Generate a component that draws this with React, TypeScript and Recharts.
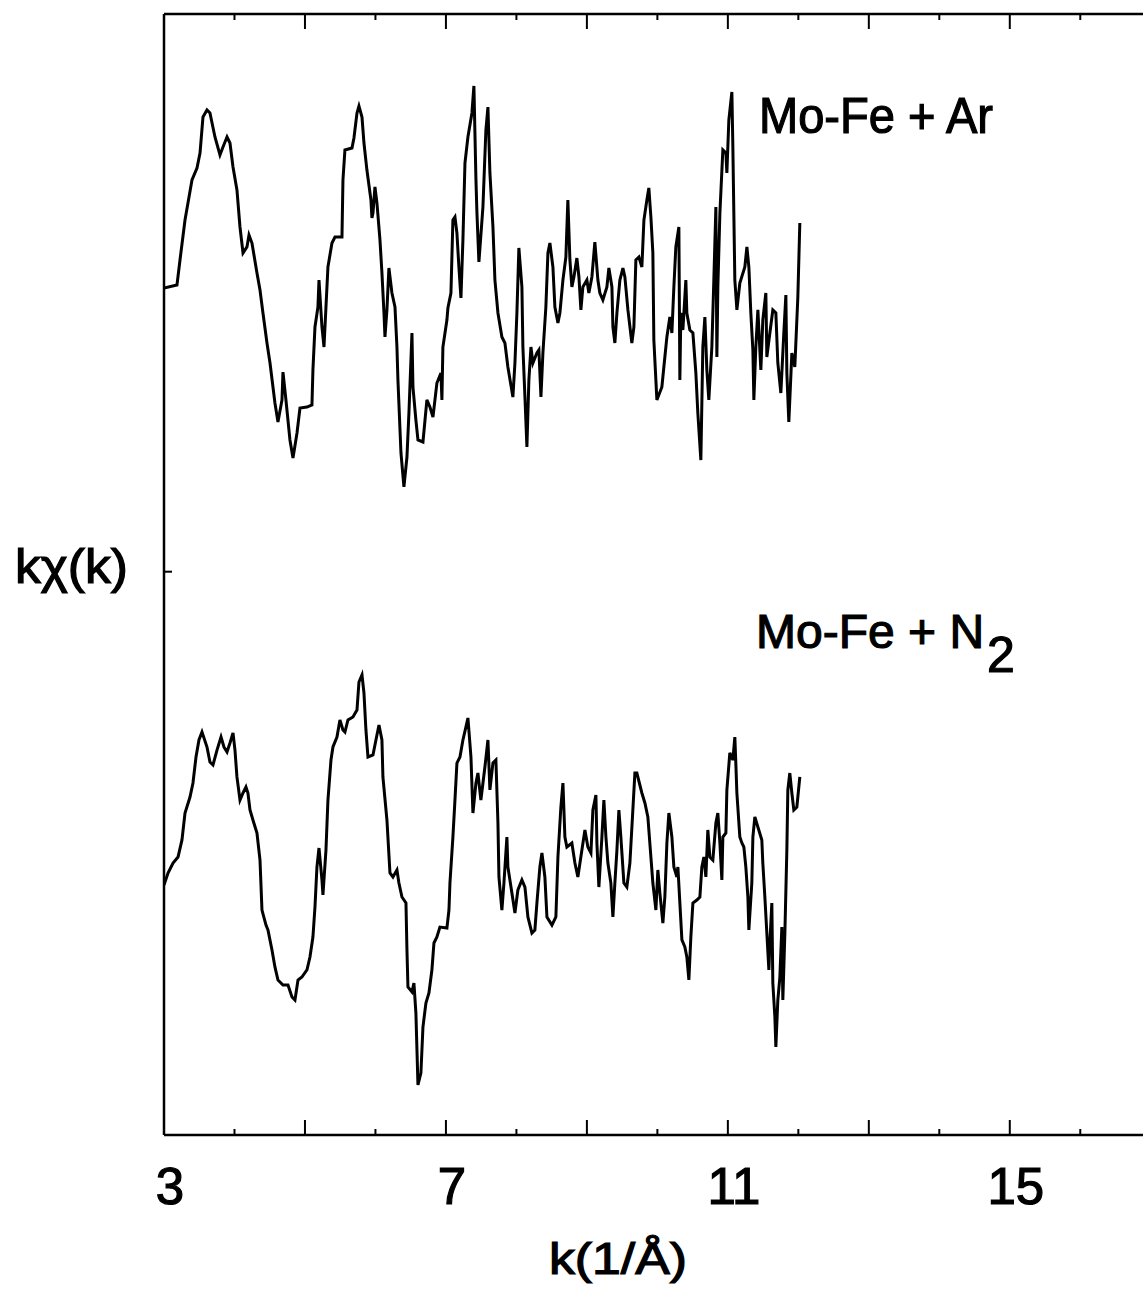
import { LineChart, Line, XAxis, YAxis } from "recharts";

const arK = [
  3.0, 3.184, 3.227, 3.298, 3.397, 3.468, 3.511, 3.553, 3.61, 3.652,
  3.723, 3.794, 3.837, 3.894, 3.936, 3.979, 4.035, 4.078, 4.121, 4.177,
  4.206, 4.248, 4.319, 4.362, 4.404, 4.461, 4.504, 4.574, 4.617, 4.674,
  4.688, 4.73, 4.787, 4.83, 4.887, 4.929, 5.028, 5.099, 5.113, 5.142,
  5.184, 5.199, 5.241, 5.27, 5.298, 5.326, 5.383, 5.426, 5.525, 5.539,
  5.567, 5.667, 5.695, 5.738, 5.766, 5.809, 5.837, 5.879, 5.936, 5.95,
  5.965, 5.993, 6.021, 6.064, 6.092, 6.121, 6.135, 6.163, 6.191, 6.234,
  6.277, 6.305, 6.319, 6.362, 6.404, 6.447, 6.475, 6.518, 6.532, 6.574,
  6.603, 6.674, 6.73, 6.773, 6.816, 6.872, 6.929, 6.943, 6.957, 7.014,
  7.028, 7.071, 7.099, 7.128, 7.156, 7.184, 7.213, 7.241, 7.27, 7.312,
  7.369, 7.397, 7.426, 7.44, 7.468, 7.525, 7.567, 7.596, 7.624, 7.667,
  7.695, 7.738, 7.794, 7.837, 7.879, 7.95, 7.979, 8.007, 8.035, 8.078,
  8.092, 8.121, 8.149, 8.177, 8.206, 8.234, 8.291, 8.319, 8.348, 8.376,
  8.418, 8.447, 8.475, 8.518, 8.546, 8.589, 8.617, 8.66, 8.702, 8.73,
  8.759, 8.787, 8.816, 8.858, 8.887, 8.915, 8.943, 9.0, 9.028, 9.071,
  9.113, 9.156, 9.184, 9.227, 9.284, 9.312, 9.355, 9.369, 9.397, 9.426,
  9.468, 9.511, 9.539, 9.582, 9.638, 9.667, 9.695, 9.738, 9.78, 9.809,
  9.851, 9.879, 9.908, 9.936, 9.95, 9.993, 10.064, 10.092, 10.135, 10.177,
  10.206, 10.234, 10.262, 10.305, 10.319, 10.333, 10.362, 10.404, 10.418, 10.461,
  10.504, 10.546, 10.574, 10.617, 10.645, 10.674, 10.702, 10.73, 10.773, 10.801,
  10.83, 10.844, 10.858, 10.887, 10.929, 10.972, 10.986, 11.014, 11.057, 11.071,
  11.099, 11.128, 11.17, 11.241, 11.27, 11.298, 11.326, 11.355, 11.369, 11.397,
  11.426, 11.468, 11.496, 11.539, 11.553, 11.596, 11.638, 11.681, 11.709, 11.752,
  11.794, 11.823, 11.837, 11.865, 11.908, 11.95, 11.993, 12.021,
];
const arChi = [
  2.531, 2.558, 2.781, 3.137, 3.494, 3.601, 3.735, 4.056, 4.119, 4.092,
  3.878, 3.717, 3.789, 3.878, 3.824, 3.61, 3.405, 3.075, 2.843, 2.897,
  3.004, 2.932, 2.665, 2.513, 2.308, 2.04, 1.862, 1.505, 1.335, 1.532,
  1.781, 1.532, 1.175, 1.014, 1.237, 1.46, 1.469, 1.487, 1.799, 2.183,
  2.361, 2.602, 2.183, 2.004, 2.361, 2.718, 2.932, 2.986, 2.986, 3.494,
  3.762, 3.78, 3.869, 4.092, 4.154, 4.056, 3.824, 3.583, 3.316, 3.155,
  3.2, 3.432, 3.289, 2.959, 2.665, 2.308, 2.094, 2.335, 2.709, 2.486,
  2.361, 2.004, 1.71, 1.059, 0.756, 1.023, 1.416, 2.129, 1.648, 1.353,
  1.175, 1.157, 1.532, 1.469, 1.38, 1.683, 1.773, 1.532, 2.004, 2.245,
  2.352, 2.486, 3.137, 3.164, 3.021, 2.718, 2.442, 2.959, 3.646, 3.878,
  4.092, 4.333, 3.494, 3.2, 2.763, 3.253, 3.94, 4.145, 3.557, 3.075,
  2.602, 2.308, 2.094, 2.04, 1.826, 1.558, 1.862, 2.308, 2.888, 2.54,
  2.004, 1.558, 1.112, 1.71, 2.004, 1.862, 1.951, 1.978, 1.558, 1.951,
  2.361, 2.843, 2.932, 2.718, 2.361, 2.219, 2.308, 2.602, 2.807, 3.316,
  2.781, 2.54, 2.629, 2.798, 2.629, 2.335, 2.54, 2.602, 2.486, 2.629,
  2.941, 2.602, 2.486, 2.424, 2.54, 2.709, 2.54, 2.183, 2.04, 2.308,
  2.602, 2.709, 2.629, 2.335, 2.04, 2.183, 2.781, 2.807, 2.718, 3.137,
  3.316, 3.423, 3.164, 2.843, 2.067, 1.532, 1.648, 1.826, 2.094, 2.272,
  2.129, 2.54, 2.897, 3.075, 1.71, 2.308, 2.156, 2.602, 2.308, 2.156,
  2.129, 1.773, 1.416, 0.996, 2.004, 2.272, 1.799, 1.532, 2.004, 2.602,
  3.253, 1.915, 2.54, 3.2, 3.762, 3.735, 3.557, 4.029, 4.279, 3.789,
  2.602, 2.335, 2.575, 2.718, 2.897, 2.718, 2.308, 1.978, 1.532, 2.004,
  2.335, 1.799, 2.245, 2.486, 1.915, 2.129, 2.335, 2.308, 1.862, 1.594,
  2.129, 2.468, 1.773, 1.335, 1.951, 1.826, 2.45, 3.111,
];

// Mo-Fe + N2 trace (offset downward)
const n2K = [
  3.0, 3.057, 3.128, 3.199, 3.255, 3.298, 3.369, 3.411, 3.454, 3.496,
  3.539, 3.61, 3.652, 3.695, 3.752, 3.809, 3.851, 3.894, 3.936, 3.979,
  4.007, 4.035, 4.078, 4.121, 4.163, 4.191, 4.22, 4.262, 4.319, 4.362,
  4.39, 4.447, 4.475, 4.532, 4.574, 4.617, 4.688, 4.759, 4.816, 4.858,
  4.901, 4.957, 5.028, 5.071, 5.113, 5.142, 5.17, 5.199, 5.241, 5.255,
  5.298, 5.326, 5.369, 5.397, 5.454, 5.496, 5.539, 5.567, 5.61, 5.681,
  5.738, 5.766, 5.809, 5.837, 5.865, 5.894, 5.965, 6.007, 6.05, 6.092,
  6.106, 6.163, 6.206, 6.248, 6.305, 6.333, 6.376, 6.433, 6.447, 6.461,
  6.518, 6.546, 6.574, 6.589, 6.603, 6.645, 6.674, 6.716, 6.759, 6.801,
  6.83, 6.872, 6.915, 7.014, 7.043, 7.057, 7.099, 7.128, 7.156, 7.199,
  7.241, 7.284, 7.312, 7.355, 7.383, 7.426, 7.454, 7.496, 7.553, 7.596,
  7.624, 7.667, 7.709, 7.738, 7.752, 7.794, 7.823, 7.865, 7.879, 7.936,
  7.979, 8.021, 8.078, 8.121, 8.163, 8.22, 8.262, 8.291, 8.333, 8.362,
  8.404, 8.433, 8.504, 8.56, 8.589, 8.631, 8.66, 8.688, 8.716, 8.787,
  8.83, 8.872, 8.929, 8.972, 9.014, 9.057, 9.085, 9.128, 9.142, 9.17,
  9.213, 9.241, 9.27, 9.298, 9.34, 9.369, 9.397, 9.426, 9.454, 9.482,
  9.525, 9.567, 9.61, 9.652, 9.681, 9.709, 9.78, 9.823, 9.865, 9.908,
  9.936, 9.979, 10.007, 10.035, 10.078, 10.106, 10.135, 10.163, 10.206, 10.234,
  10.277, 10.291, 10.319, 10.348, 10.39, 10.418, 10.447, 10.475, 10.504, 10.56,
  10.603, 10.631, 10.66, 10.688, 10.716, 10.745, 10.787, 10.83, 10.858, 10.887,
  10.915, 10.929, 10.972, 10.986, 11.028, 11.071, 11.099, 11.113, 11.128, 11.17,
  11.199, 11.227, 11.255, 11.284, 11.298, 11.34, 11.355, 11.383, 11.426, 11.482,
  11.496, 11.525, 11.553, 11.582, 11.596, 11.624, 11.638, 11.667, 11.681, 11.709,
  11.738, 11.766, 11.78, 11.809, 11.837, 11.851, 11.879, 11.908, 11.936, 11.979,
  12.021,
];
const n2Chi = [
  -2.795, -2.688, -2.599, -2.545, -2.393, -2.153, -2.01, -1.885, -1.653, -1.501,
  -1.43, -1.564, -1.698, -1.724, -1.591, -1.475, -1.564, -1.608, -1.528, -1.439,
  -1.591, -1.831, -2.037, -1.974, -1.921, -1.974, -2.126, -2.215, -2.331, -2.572,
  -3.018, -3.152, -3.196, -3.375, -3.526, -3.642, -3.687, -3.687, -3.794, -3.821,
  -3.642, -3.616, -3.553, -3.437, -3.259, -2.991, -2.634, -2.465, -2.75, -2.884,
  -2.483, -2.037, -1.68, -1.564, -1.475, -1.323, -1.412, -1.43, -1.323, -1.296,
  -1.234, -0.984, -0.921, -1.082, -1.412, -1.653, -1.635, -1.501, -1.368, -1.501,
  -1.831, -2.215, -2.688, -2.723, -2.661, -2.777, -2.902, -2.955, -3.375, -3.705,
  -3.749, -3.669, -3.937, -4.267, -4.579, -4.472, -4.062, -3.847, -3.758, -3.553,
  -3.312, -3.259, -3.17, -3.178, -3.018, -2.777, -2.367, -2.037, -1.707, -1.653,
  -1.501, -1.385, -1.305, -1.653, -2.153, -1.885, -1.796, -2.037, -1.742, -1.501,
  -1.947, -1.707, -1.68, -2.242, -2.723, -3.018, -2.777, -2.367, -2.634, -2.866,
  -3.045, -2.839, -2.75, -2.813, -3.08, -3.223, -3.196, -2.955, -2.634, -2.509,
  -2.723, -3.08, -3.152, -3.08, -2.545, -2.099, -1.885, -2.367, -2.456, -2.42,
  -2.599, -2.723, -2.483, -2.304, -2.456, -2.509, -2.126, -1.992, -2.42, -2.813,
  -2.367, -2.037, -2.367, -2.599, -2.777, -3.08, -2.777, -2.483, -2.126, -2.367,
  -2.777, -2.813, -2.599, -2.126, -1.796, -1.796, -1.974, -2.063, -2.188, -2.545,
  -2.777, -3.018, -2.661, -2.866, -3.134, -2.902, -2.42, -2.153, -2.367, -2.634,
  -2.723, -2.634, -2.955, -3.285, -3.348, -3.437, -3.642, -3.259, -2.955, -2.929,
  -2.902, -2.634, -2.545, -2.723, -2.304, -2.545, -2.572, -2.242, -2.153, -2.42,
  -2.75, -2.367, -2.331, -1.947, -1.617, -1.68, -1.475, -1.707, -1.974, -2.367,
  -2.42, -2.456, -2.634, -2.902, -3.196, -2.777, -2.367, -2.188, -2.277, -2.393,
  -2.599, -2.902, -3.223, -3.553, -3.312, -2.955, -3.669, -3.972, -4.24, -3.821,
  -3.616, -3.17, -3.821, -3.223, -2.483, -1.947, -1.796, -1.974, -2.126, -2.099,
  -1.831,
];

const kTicks = [3, 4, 5, 6, 7, 8, 9, 10, 11, 12, 13, 14, 15, 16];
const kLabels = [3, 7, 11, 15];
const chiTicks = [0];

const arData = arK.map((k, i) => ({ k, chi: arChi[i] }));
const n2Data = n2K.map((k, i) => ({ k, chi: n2Chi[i] }));

const FONT = "'Liberation Sans', Arial, sans-serif";

const BottomTick = (props: any) => {
  const { x, y, payload } = props;
  const v = payload.value;
  const len = v % 2 === 1 ? 15 : 6;
  return (
    <g>
      <line x1={x} x2={x} y1={y} y2={y - len} stroke="#000" strokeWidth={2} />
      {kLabels.includes(v) && (
        <text
          x={x + 6}
          y={y + 69}
          textAnchor="middle"
          fontSize={51}
          fontFamily={FONT}
          fill="#000"
          stroke="#000"
          strokeWidth={1.2}
        >
          {v}
        </text>
      )}
    </g>
  );
};

const TopTick = (props: any) => {
  const { x, y, payload } = props;
  const len = payload.value % 2 === 1 ? 15 : 6;
  return <line x1={x} x2={x} y1={y} y2={y + len} stroke="#000" strokeWidth={2} />;
};

const LeftTick = (props: any) => {
  const { x, y } = props;
  return <line x1={x} x2={x + 8} y1={y} y2={y} stroke="#000" strokeWidth={2} />;
};

export default function App() {
  return (
    <div style={{ position: "absolute", left: 0, top: 0, width: 1143, height: 1296, background: "#fff" }}>
      <LineChart width={1143} height={1296} margin={{ top: 13, right: 0, bottom: 0, left: 0 }}>
        <XAxis
          dataKey="k"
          type="number"
          domain={[3, 16.89]}
          allowDataOverflow
          ticks={kTicks}
          interval={0}
          height={161}
          tickSize={0}
          tickMargin={0}
          tickLine={false}
          tick={<BottomTick />}
          axisLine={{ stroke: "#000", strokeWidth: 2.5 }}
        />
        <XAxis
          xAxisId="top"
          orientation="top"
          dataKey="k"
          type="number"
          domain={[3, 16.89]}
          allowDataOverflow
          ticks={kTicks}
          interval={0}
          height={1}
          tickSize={0}
          tickMargin={0}
          tickLine={false}
          tick={<TopTick />}
          axisLine={{ stroke: "#000", strokeWidth: 2.5 }}
        />
        <YAxis
          type="number"
          domain={[-5.025, 4.975]}
          allowDataOverflow
          ticks={chiTicks}
          width={164}
          tickSize={0}
          tickMargin={0}
          tickLine={false}
          tick={<LeftTick />}
          axisLine={{ stroke: "#000", strokeWidth: 2.5 }}
        />
        <Line
          data={arData}
          dataKey="chi"
          type="linear"
          stroke="#000"
          strokeWidth={3}
          dot={false}
          isAnimationActive={false}
        />
        <Line
          data={n2Data}
          dataKey="chi"
          type="linear"
          stroke="#000"
          strokeWidth={3}
          dot={false}
          isAnimationActive={false}
        />
      </LineChart>
      <svg
        width={1143}
        height={1296}
        style={{ position: "absolute", left: 0, top: 0, pointerEvents: "none" }}
        fontFamily={FONT}
        fill="#000"
        stroke="#000"
        strokeWidth={1.2}
      >
        <text x={15} y={583} fontSize={48} textLength={113} lengthAdjust="spacingAndGlyphs">
          kχ(k)
        </text>
        <text x={549} y={1274} fontSize={44} textLength={138} lengthAdjust="spacingAndGlyphs">
          k(1/Å)
        </text>
        <text x={759} y={133} fontSize={50} textLength={234} lengthAdjust="spacingAndGlyphs">
          Mo-Fe + Ar
        </text>
        <text x={756} y={648} fontSize={48}>
          Mo-Fe + N
          <tspan dx={3} dy={24} fontSize={50}>
            2
          </tspan>
        </text>
      </svg>
    </div>
  );
}
